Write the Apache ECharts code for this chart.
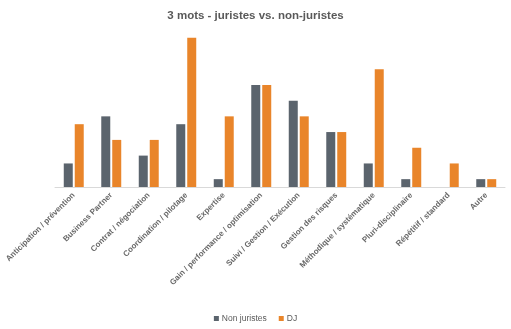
<!DOCTYPE html>
<html>
<head>
<meta charset="utf-8">
<script src="https://cdn.jsdelivr.net/npm/echarts@6/dist/echarts.min.js"></script>
<style>
  html, body { margin: 0; padding: 0; background: #fff; }
  #chart { width: 511px; height: 329px; }
</style>
</head>
<body>
<div id="chart"></div>
<script>
// Qualities chosen in three words, by group
const categories = [
  'Anticipation / prévention',
  'Business Partner',
  'Contrat / négociation',
  'Coordination / pilotage',
  'Expertise',
  'Gain / performance / optimisation',
  'Suivi / Gestion / Exécution',
  'Gestion des risques',
  'Méthodique / systématique',
  'Pluri-disciplinaire',
  'Répétitif / standard',
  'Autre'
];
const nonJuristes = [3, 9, 4, 8, 1, 13, 11, 7, 3, 1, 0, 1];
const dj = [8, 6, 6, 19, 9, 13, 9, 7, 15, 5, 3, 1];

const chart = echarts.init(document.getElementById('chart'), null, { renderer: 'canvas' });
chart.setOption({
  animation: false,
  backgroundColor: '#ffffff',
  title: {
    text: '3 mots - juristes vs. non-juristes',
    left: 'center',
    top: 5,
    textStyle: {
      fontFamily: 'Liberation Sans, Arial, sans-serif',
      fontSize: 11.5,
      fontWeight: 'bold',
      color: '#595959'
    }
  },
  legend: {
    bottom: 1,
    left: 'center',
    itemWidth: 5,
    itemHeight: 5,
    itemGap: 12,
    icon: 'rect',
    textStyle: {
      fontFamily: 'Liberation Sans, Arial, sans-serif',
      fontSize: 8.5,
      color: '#595959',
      padding: [0, 0, 0, -2]
    },
    data: ['Non juristes', 'DJ']
  },
  grid: { left: 55, right: 6, top: 30, bottom: 142, containLabel: false },
  xAxis: {
    type: 'category',
    data: categories,
    axisLine: { lineStyle: { color: '#d9d9d9', width: 1 } },
    axisTick: { show: false },
    axisLabel: {
      interval: 0,
      rotate: 45,
      margin: 7,
      fontFamily: 'Liberation Sans, Arial, sans-serif',
      fontSize: 8,
      fontWeight: 'bold',
      color: '#666666'
    }
  },
  yAxis: {
    type: 'value',
    min: 0,
    max: 20,
    show: false,
    splitLine: { show: false }
  },
  series: [
    {
      name: 'Non juristes',
      type: 'bar',
      data: nonJuristes,
      barWidth: 9,
      barGap: '22%',
      itemStyle: { color: '#5b646d' }
    },
    {
      name: 'DJ',
      type: 'bar',
      data: dj,
      barWidth: 9,
      itemStyle: { color: '#e9852a' }
    }
  ]
});
</script>
</body>
</html>
